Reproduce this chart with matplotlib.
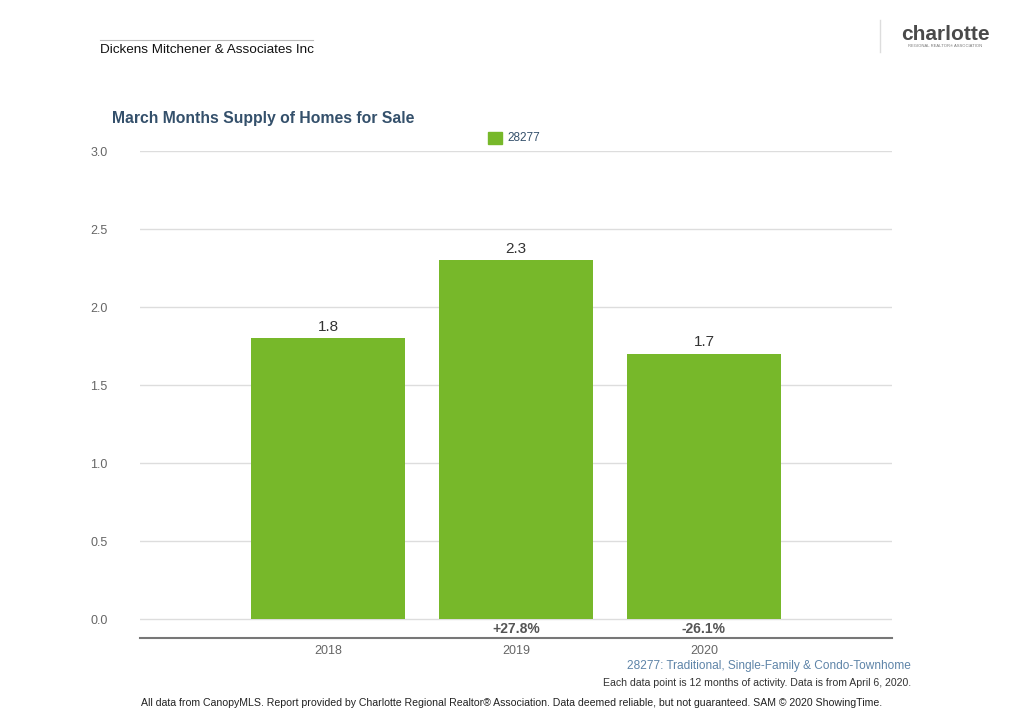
import matplotlib
matplotlib.use("Agg")
import matplotlib.pyplot as plt
from matplotlib.patches import Rectangle
from matplotlib.lines import Line2D
import matplotlib.transforms as mtransforms

categories = ["2018", "2019", "2020"]
values = [1.8, 2.3, 1.7]
value_labels = ["1.8", "2.3", "1.7"]
pct_changes = ["", "+27.8%", "-26.1%"]
yticks = [0.0, 0.5, 1.0, 1.5, 2.0, 2.5, 3.0]
series_name = "28277"

plt.rcParams['font.family'] = ['Liberation Sans', 'DejaVu Sans']

BAR = "#77B82A"
TITLE_C = "#34506B"
GRID_C = "#DDDDDD"
TICK_C = "#666666"

fig = plt.figure(figsize=(10.24, 7.12), dpi=100)
ax = fig.add_axes([140/1024, 74/712, 752/1024, 487/712])

x = list(range(len(categories)))
bars = ax.bar(x, values, width=0.815, color=BAR, zorder=3)
ax.set_xlim(-1, 3)
ax.set_ylim(-0.12, 3.0)
ax.set_yticks(yticks)
ax.set_yticklabels([f"{t:.1f}" for t in yticks], color=TICK_C, fontsize=9)
ax.set_xticks(x)
ax.set_xticklabels(categories, color=TICK_C, fontsize=9)
ax.tick_params(axis='both', length=0)
ax.tick_params(axis='y', pad=35)
ax.tick_params(axis='x', pad=5)
for t in yticks:
    ax.axhline(t, color=GRID_C, lw=1, zorder=1)
for s in ["top", "right", "left"]:
    ax.spines[s].set_visible(False)
ax.spines["bottom"].set_color("#777777")
ax.spines["bottom"].set_linewidth(1.5)
offset = mtransforms.ScaledTranslation(16/100, 0, fig.dpi_scale_trans)
for lbl in ax.get_yticklabels():
    lbl.set_transform(lbl.get_transform() + offset)

for xi, v, lab in zip(x, values, value_labels):
    ax.text(xi, v + 0.03, lab, ha='center', va='bottom', fontsize=11, color="#333333")
for xi, p in zip(x, pct_changes):
    if p:
        ax.text(xi, -0.065, p, ha='center', va='center', fontsize=10,
                fontweight='bold', color="#555555")

# Header
fig.add_artist(Line2D([100/1024, 313/1024], [1-40/712, 1-40/712], color="#BBBBBB", lw=0.8))
fig.text(100/1024, 1-50/712, "Dickens Mitchener & Associates Inc", fontsize=9.7,
         color="#111111", va='center', ha='left')

# Logo
fig.add_artist(Line2D([880/1024, 880/1024], [1-20/712, 1-52/712], color="#DDDDDD", lw=1))
fig.text(945/1024, 1-34/712, "charlotte", fontsize=15, fontweight='bold',
         color="#4A4A4A", ha='center', va='center')
fig.text(945/1024, 1-46/712, "REGIONAL REALTOR® ASSOCIATION", fontsize=3,
         color="#777777", ha='center', va='center')

# Title
fig.text(112/1024, 1-118/712, "March Months Supply of Homes for Sale", fontsize=11.3,
         fontweight='bold', color=TITLE_C, ha='left', va='center')

# Legend
fig.add_artist(Rectangle((488/1024, 1-144/712), 14/1024, 12/712,
                         transform=fig.transFigure, color=BAR))
fig.text(507/1024, 1-138/712, series_name, fontsize=8.5, color=TITLE_C,
         ha='left', va='center')

# Footer
fig.text(911/1024, 1-666/712, "28277: Traditional, Single-Family & Condo-Townhome",
         fontsize=8.6, color="#5E84A8", ha='right', va='center')
fig.text(911/1024, 1-683/712,
         "Each data point is 12 months of activity. Data is from April 6, 2020.",
         fontsize=7.6, color="#333333", ha='right', va='center')
fig.text(512/1024, 1-703/712,
         "All data from CanopyMLS. Report provided by Charlotte Regional Realtor® Association. "
         "Data deemed reliable, but not guaranteed. SAM © 2020 ShowingTime.",
         fontsize=7.55, color="#222222", ha='center', va='center')

fig.savefig("out.png", dpi=100, facecolor='white')
